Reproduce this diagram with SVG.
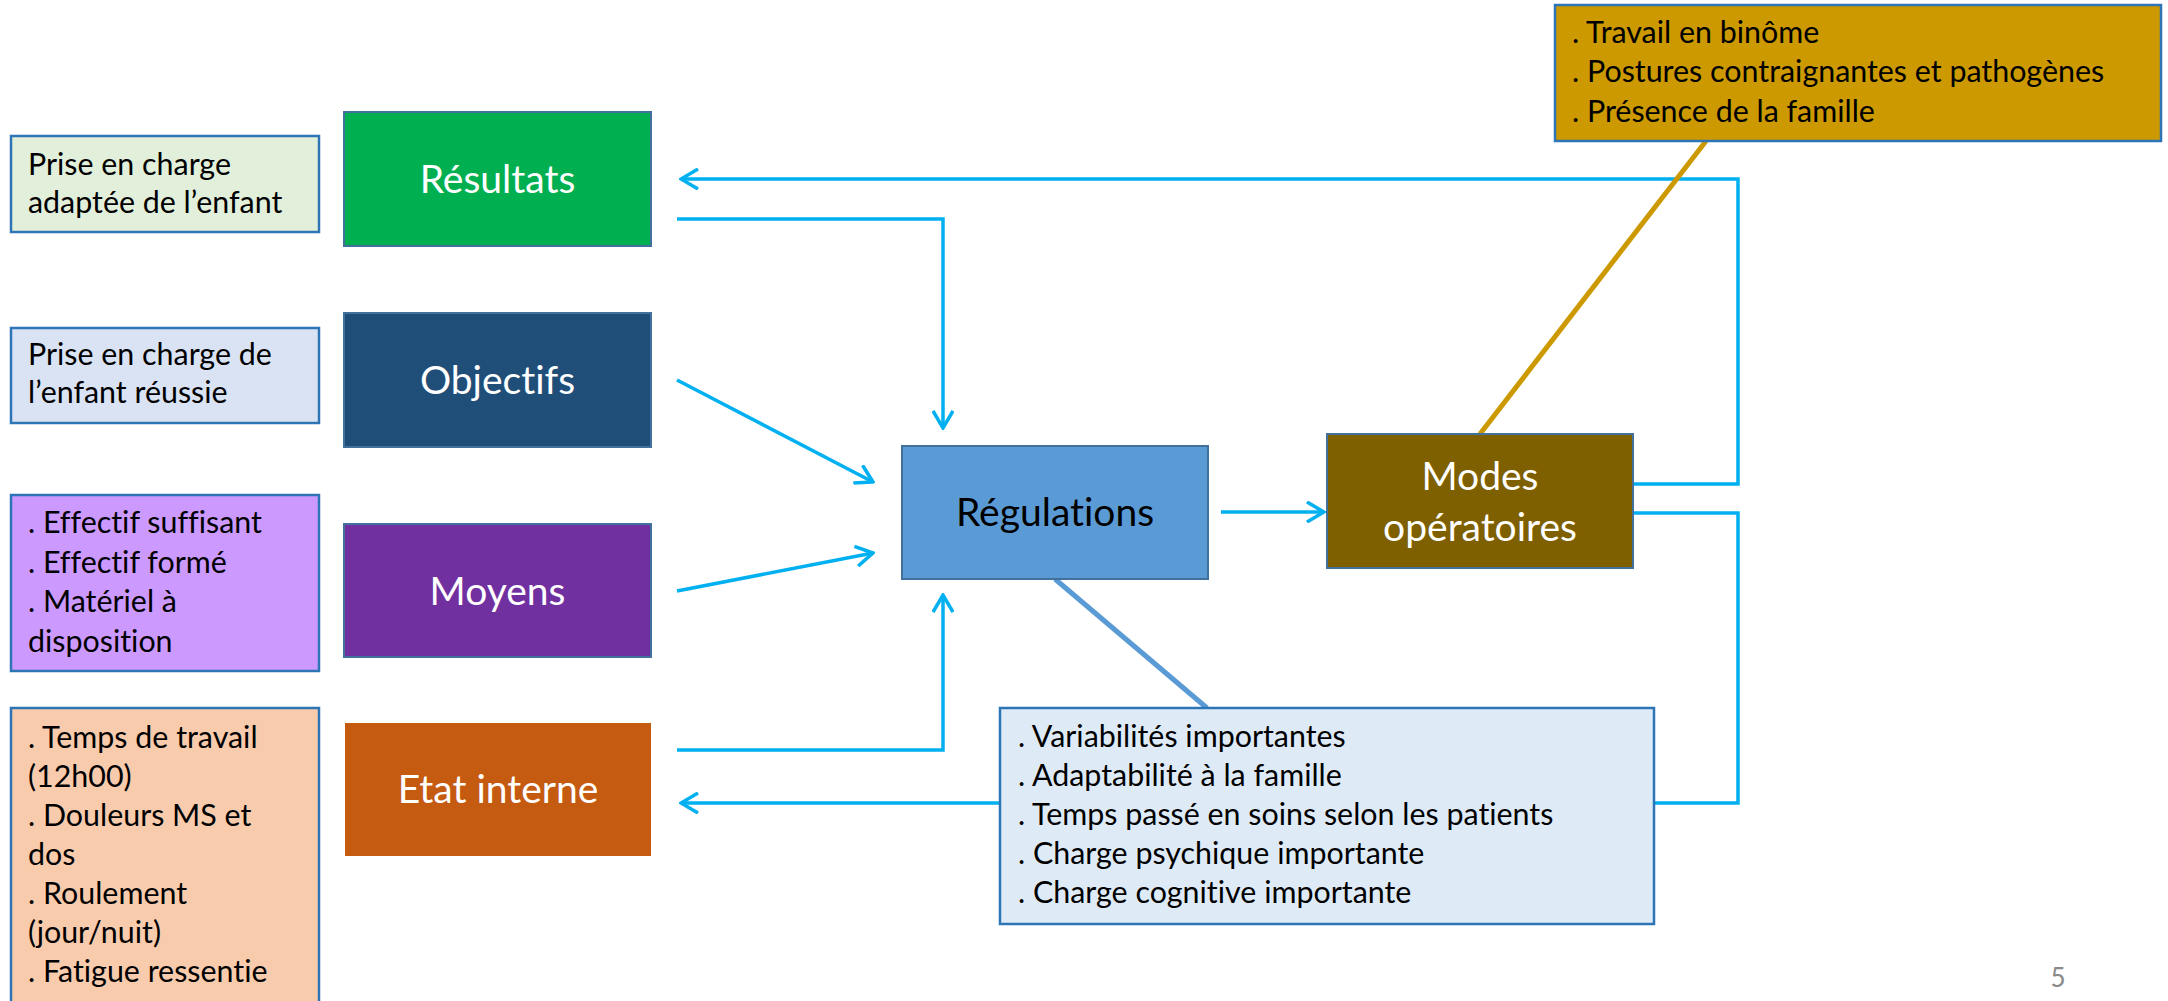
<svg xmlns="http://www.w3.org/2000/svg" width="2168" height="1001" viewBox="0 0 2168 1001">
<style>
.node{stroke:#41719C;stroke-width:2}
.ann{stroke:#2E75B6;stroke-width:2.5}
.nt{font-family:Lato,"Liberation Sans",sans-serif;font-size:39px;fill:#FFFFFF;text-anchor:middle;font-variant-ligatures:none}
.at{font-family:Lato,"Liberation Sans",sans-serif;font-size:30.4px;fill:#000000;font-variant-ligatures:none}
.conn{fill:none;stroke:#00B0F0;stroke-width:3.5}
</style>
<defs>
<marker id="arr" viewBox="0 0 20 22" refX="18" refY="11" markerWidth="20" markerHeight="22" markerUnits="userSpaceOnUse" orient="auto">
<path d="M1,1 L18,11 L1,21" fill="none" stroke="#00B0F0" stroke-width="3.5"/>
</marker>
</defs>
<rect width="2168" height="1001" fill="#FFFFFF"/>

<g id="connectors">
<path class="conn" d="M1633,484 H1738 V179 H681" marker-end="url(#arr)"/>
<path class="conn" d="M677,219 H943 V428" marker-end="url(#arr)"/>
<path class="conn" d="M677,380 L873,482" marker-end="url(#arr)"/>
<path class="conn" d="M677,591 L873,553" marker-end="url(#arr)"/>
<path class="conn" d="M677,750 H943 V595" marker-end="url(#arr)"/>
<path class="conn" d="M1221,512 H1324" marker-end="url(#arr)"/>
<path class="conn" d="M1633,513 H1738 V803 H681" marker-end="url(#arr)"/>
<line x1="1055" y1="579" x2="1207" y2="708" stroke="#5B9BD5" stroke-width="5"/>
<line x1="1480" y1="434" x2="1706" y2="141" stroke="#CC9900" stroke-width="5"/>
</g>

<g id="ann-resultats">
<rect class="ann" x="11" y="136" width="308" height="96" fill="#E2EFDA"/>
<text class="at" x="28" y="175">Prise en charge</text>
<text class="at" x="28" y="213">adaptée de l’enfant</text>
</g>
<g id="ann-objectifs">
<rect class="ann" x="11" y="328" width="308" height="95" fill="#DAE3F3"/>
<text class="at" x="28" y="365">Prise en charge de</text>
<text class="at" x="28" y="403">l’enfant réussie</text>
</g>
<g id="ann-moyens">
<rect class="ann" x="11" y="495" width="308" height="176" fill="#CC99FF"/>
<text class="at" x="28" y="533">. Effectif suffisant</text>
<text class="at" x="28" y="573">. Effectif formé</text>
<text class="at" x="28" y="612">. Matériel à</text>
<text class="at" x="28" y="652">disposition</text>
</g>
<g id="ann-etat">
<rect class="ann" x="11" y="708" width="308" height="300" fill="#F8CBAD"/>
<text class="at" x="28" y="748">. Temps de travail</text>
<text class="at" x="28" y="787">(12h00)</text>
<text class="at" x="28" y="826">. Douleurs MS et</text>
<text class="at" x="28" y="865">dos</text>
<text class="at" x="28" y="904">. Roulement</text>
<text class="at" x="28" y="943">(jour/nuit)</text>
<text class="at" x="28" y="982">. Fatigue ressentie</text>
</g>

<g id="resultats">
<rect class="node" x="344" y="112" width="307" height="134" fill="#00B050"/>
<text class="nt" x="497.5" y="193">Résultats</text>
</g>
<g id="objectifs">
<rect class="node" x="344" y="313" width="307" height="134" fill="#1F4E79"/>
<text class="nt" x="497.5" y="394">Objectifs</text>
</g>
<g id="moyens">
<rect class="node" x="344" y="524" width="307" height="133" fill="#7030A0"/>
<text class="nt" x="497.5" y="605">Moyens</text>
</g>
<g id="etat-interne">
<rect x="345" y="723" width="306" height="133" fill="#C55A11"/>
<text class="nt" x="498" y="803">Etat interne</text>
</g>
<g id="regulations">
<rect class="node" x="902" y="446" width="306" height="133" fill="#5B9BD5"/>
<text class="nt" x="1055" y="526" style="fill:#000000">Régulations</text>
</g>
<g id="modes">
<rect class="node" x="1327" y="434" width="306" height="134" fill="#7F6000"/>
<text class="nt" x="1480" y="490">Modes</text>
<text class="nt" x="1480" y="541">opératoires</text>
</g>
<g id="ann-modes">
<rect class="ann" x="1555" y="5" width="606" height="136" fill="#CC9900"/>
<text class="at" x="1572" y="43">. Travail en binôme</text>
<text class="at" x="1572" y="82">. Postures contraignantes et pathogènes</text>
<text class="at" x="1572" y="122">. Présence de la famille</text>
</g>
<g id="ann-regulations">
<rect class="ann" x="1000" y="708" width="654" height="216" fill="#DEEBF7"/>
<text class="at" x="1018" y="747">. Variabilités importantes</text>
<text class="at" x="1018" y="786">. Adaptabilité à la famille</text>
<text class="at" x="1018" y="825">. Temps passé en soins selon les patients</text>
<text class="at" x="1018" y="864">. Charge psychique importante</text>
<text class="at" x="1018" y="903">. Charge cognitive importante</text>
</g>
<text x="2058" y="987" font-family="Lato,'Liberation Sans',sans-serif" font-size="26" fill="#898989" text-anchor="middle">5</text>
</svg>
